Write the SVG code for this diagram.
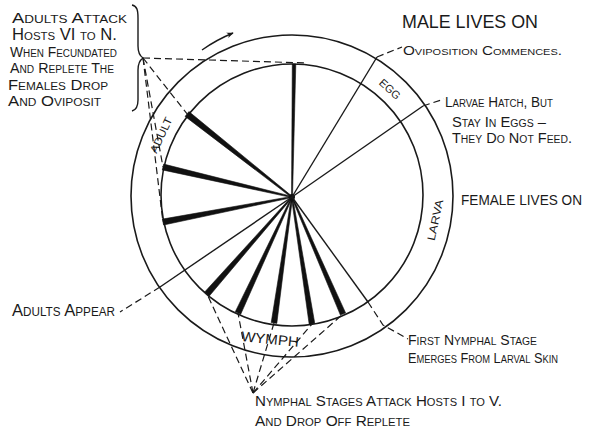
<svg xmlns="http://www.w3.org/2000/svg" width="593" height="431" viewBox="0 0 593 431">
<style>
.ring{fill:none;stroke:#1a1a1a;stroke-width:1.6}
.thin{fill:none;stroke:#1a1a1a;stroke-width:1.4}
.dash{fill:none;stroke:#1a1a1a;stroke-width:1.2;stroke-dasharray:7 4}
.spoke{fill:#111;stroke:#111;stroke-width:0.6;stroke-linejoin:round}
text{font-family:"Liberation Sans","DejaVu Sans",sans-serif;fill:#1a1a1a}
.sc{font-variant:small-caps}
.lbl{font-size:11px}
</style>
<defs>
<marker id="ah" viewBox="0 0 10 10" refX="9" refY="5" markerWidth="7" markerHeight="7" orient="auto" markerUnits="userSpaceOnUse">
<path d="M0,1 L10,5 L0,9 L3,5 Z" fill="#1a1a1a"/>
</marker>
</defs>
<rect width="593" height="431" fill="#fff"/>

<g id="wheel">
<circle class="ring" cx="292" cy="196" r="161"/>
<circle class="ring" cx="292" cy="195" r="131"/>
<path class="thin" d="M202,50 Q216,40 233,33" marker-end="url(#ah)"/>
</g>

<g id="spokes">
<polygon class="spoke" points="292.5,197 295.8,64 292.3,64 291.5,197"/>
<polygon class="spoke" points="292.4,196.5 188.9,111.6 185.1,116.4 291.6,197.5"/>
<polygon class="spoke" points="292.1,196.4 163.7,164.1 162.3,169.9 291.9,197.6"/>
<polygon class="spoke" points="291.9,196.4 162.4,219.1 163.6,225 292.1,197.6"/>
<polygon class="spoke" points="291.6,196.6 204.7,292 209.3,296 292.4,197.4"/>
<polygon class="spoke" points="291.5,196.8 235.3,311.7 240.7,314.3 292.5,197.3"/>
<polygon class="spoke" points="291.4,196.9 271.2,322.6 276.8,323.4 292.6,197.1"/>
<polygon class="spoke" points="291.4,197.1 309.2,324.4 314.8,323.6 292.6,196.9"/>
<polygon class="spoke" points="291.5,197.2 340.4,315.1 345.6,312.9 292.6,196.8"/>
<circle cx="292" cy="197" r="3" fill="#111"/>
</g>

<g id="connectors">
<line class="thin" x1="292" y1="197" x2="377" y2="57"/>
<line class="thin" x1="292" y1="197" x2="423" y2="106"/>
<line class="thin" x1="292" y1="197" x2="368" y2="302"/>
<line class="thin" x1="292" y1="197" x2="160" y2="287"/>
<path class="dash" d="M377,57 L402,47"/>
<path class="dash" d="M423,106 L444,99"/>
<path class="dash" d="M368,302 L383,325 L408,339"/>
<path class="dash" d="M160,287 L120,312"/>
<path class="dash" d="M143,58 L307,63"/>
<path class="dash" d="M143,58 L188,115"/>
<path class="dash" d="M143,58 L163,167"/>
<path class="dash" d="M143,58 L163,222"/>
<path class="dash" d="M253,393 L207,294"/>
<path class="dash" d="M253,393 L238,313"/>
<path class="dash" d="M253,393 L274,323"/>
<path class="dash" d="M253,393 L312,324"/>
<path class="dash" d="M253,393 L343,314"/>
<path class="thin" d="M132,5 C137,6 138,10 138,18 L138,46 C138,53 140,56 143,58 C140,60 138,63 138,70 L138,100 C138,107 136,110 132,111"/>
</g>

<g id="ring-labels">
<text class="lbl" x="390" y="93" text-anchor="middle" transform="rotate(42 390 89)">EGG</text>
<text class="lbl" x="435" y="224" text-anchor="middle" textLength="42" lengthAdjust="spacingAndGlyphs" transform="rotate(-78 435 220)">LARVA</text>
<text class="lbl" x="161" y="139" text-anchor="middle" textLength="38" lengthAdjust="spacingAndGlyphs" transform="rotate(-65 161 135)">ADULT</text>
<text x="270" y="344" font-size="14" text-anchor="middle" textLength="58" lengthAdjust="spacingAndGlyphs" transform="rotate(6 270 339)">WYMPH</text>
</g>

<g id="adults-attack">
<text class="sc" x="12" y="23" font-size="15" textLength="115" lengthAdjust="spacingAndGlyphs">Adults Attack</text>
<text class="sc" x="12" y="40" font-size="16" textLength="105" lengthAdjust="spacingAndGlyphs">Hosts VI to N.</text>
<text class="sc" x="10" y="57" font-size="14" textLength="107" lengthAdjust="spacingAndGlyphs">When Fecundated</text>
<text class="sc" x="10" y="73" font-size="14" textLength="104" lengthAdjust="spacingAndGlyphs">And Replete The</text>
<text class="sc" x="8" y="90" font-size="14" textLength="100" lengthAdjust="spacingAndGlyphs">Females Drop</text>
<text class="sc" x="8" y="106" font-size="14" textLength="93" lengthAdjust="spacingAndGlyphs">And Oviposit</text>
</g>

<g id="male">
<text x="402" y="28" font-size="18" textLength="136" lengthAdjust="spacingAndGlyphs">MALE LIVES ON</text>
</g>
<g id="oviposition">
<text class="sc" x="403" y="55" font-size="12.5" textLength="159" lengthAdjust="spacingAndGlyphs">Oviposition Commences.</text>
</g>
<g id="larvae-hatch">
<text class="sc" x="445" y="107" font-size="14" textLength="108" lengthAdjust="spacingAndGlyphs">Larvae Hatch, But</text>
<text class="sc" x="452" y="127" font-size="14" textLength="94" lengthAdjust="spacingAndGlyphs">Stay In Eggs  –</text>
<text class="sc" x="452" y="143" font-size="14" textLength="120" lengthAdjust="spacingAndGlyphs">They Do Not Feed.</text>
</g>
<g id="female">
<text x="461" y="205" font-size="15" textLength="121" lengthAdjust="spacingAndGlyphs">FEMALE LIVES ON</text>
</g>
<g id="first-nymphal">
<text class="sc" x="408" y="345" font-size="15" textLength="129" lengthAdjust="spacingAndGlyphs">First Nymphal Stage</text>
<text class="sc" x="408" y="363" font-size="15" textLength="150" lengthAdjust="spacingAndGlyphs">Emerges From Larval Skin</text>
</g>
<g id="adults-appear">
<text class="sc" x="12" y="316" font-size="17" textLength="103" lengthAdjust="spacingAndGlyphs">Adults Appear</text>
</g>
<g id="nymphal-stages">
<text class="sc" x="255" y="406" font-size="15" textLength="247" lengthAdjust="spacingAndGlyphs">Nymphal Stages Attack Hosts I to V.</text>
<text class="sc" x="255" y="426" font-size="15" textLength="155" lengthAdjust="spacingAndGlyphs">And Drop Off Replete</text>
</g>
</svg>
